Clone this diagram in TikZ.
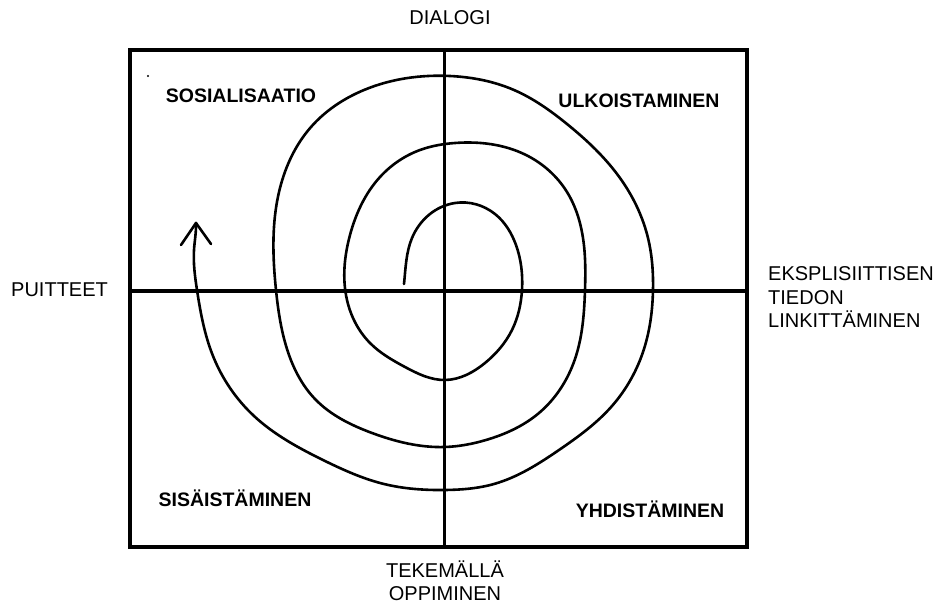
\documentclass[tikz,border=0pt]{standalone}
\usepackage{fontspec}
\setmainfont{Liberation Sans}
\usetikzlibrary{hobby}
\tikzset{
  lbl/.style={inner sep=0pt, font=\fontsize{20}{23.5}\selectfont},
  quad/.style={anchor=base, inner sep=0pt, font=\fontsize{19.5}{23.5}\selectfont\bfseries},
  frame/.style={line width=3.5pt},
  spiral/.style={line width=2.6pt, line cap=round, line join=round}
}
\begin{document}
\begin{tikzpicture}[x=1pt,y=-1pt]
\useasboundingbox (0,0) rectangle (938,609);
% frame and cross
\draw[frame] (130,50) rectangle (747,547);
\coordinate (top) at (444.5,50);
\coordinate (bot) at (444.5,547);
\coordinate (lft) at (130,291);
\coordinate (rgt) at (747,291);
\draw[frame] (top) -- (bot);
\draw[frame] (lft) -- (rgt);
% tiny dot
\fill (148,76) circle (1.2);
% spiral
\coordinate (s0) at (404,284);
\coordinate (tip) at (196,223);
\coordinate (bl) at (181,245);
\coordinate (br) at (211,244);
\draw[spiral, use Hobby shortcut]
  ([out angle=84]s0) .. (412,238) .. (455,203) .. (495,214) .. (516,245)
  .. (522,290) .. (512,330) .. (485,363) .. (445,380) .. (405,367) .. (370,343)
  .. (347,300) .. (350,235) .. (380,177) .. (420,150) .. (455,143) .. (526,155)
  .. (567,192) .. (583,238) .. (585,290) .. (575,359) .. (539,413) .. (486,440)
  .. (445,447) .. (372,433) .. (315,399) .. (287,349) .. (276,290) .. (280,188)
  .. (311,127) .. (364,90) .. (450,76) .. (514,90) .. (567,124) .. (620,178)
  .. (648,238) .. (653,290) .. (644,349) .. (612,406) .. (559,450) .. (494,484)
  .. (445,490) .. (384,484) .. (323,460) .. (254,416) .. (213,356) .. (197,290)
  .. (194,250) .. ([in angle=-88]tip);
\draw[spiral] (bl) -- (tip) -- (br);
% outer labels
\node[lbl, anchor=base] (dialogi) at (450,25) {DIALOGI};
\node[lbl, anchor=base west] (puitteet) at (11,297) {PUITTEET};
\node[lbl, anchor=base west, align=left] (ekspl) at (768,328) {EKSPLISIITTISEN\\TIEDON\\LINKITTÄMINEN};
\node[lbl, anchor=base, align=center] (tekem) at (445,601) {TEKEMÄLLÄ\\OPPIMINEN};
% quadrant labels
\node[quad] (sos) at (241,103) {SOSIALISAATIO};
\node[quad] (ulk) at (639,108) {ULKOISTAMINEN};
\node[quad] (sis) at (235,507) {SISÄISTÄMINEN};
\node[quad] (yhd) at (650,518) {YHDISTÄMINEN};
\end{tikzpicture}
\end{document}
